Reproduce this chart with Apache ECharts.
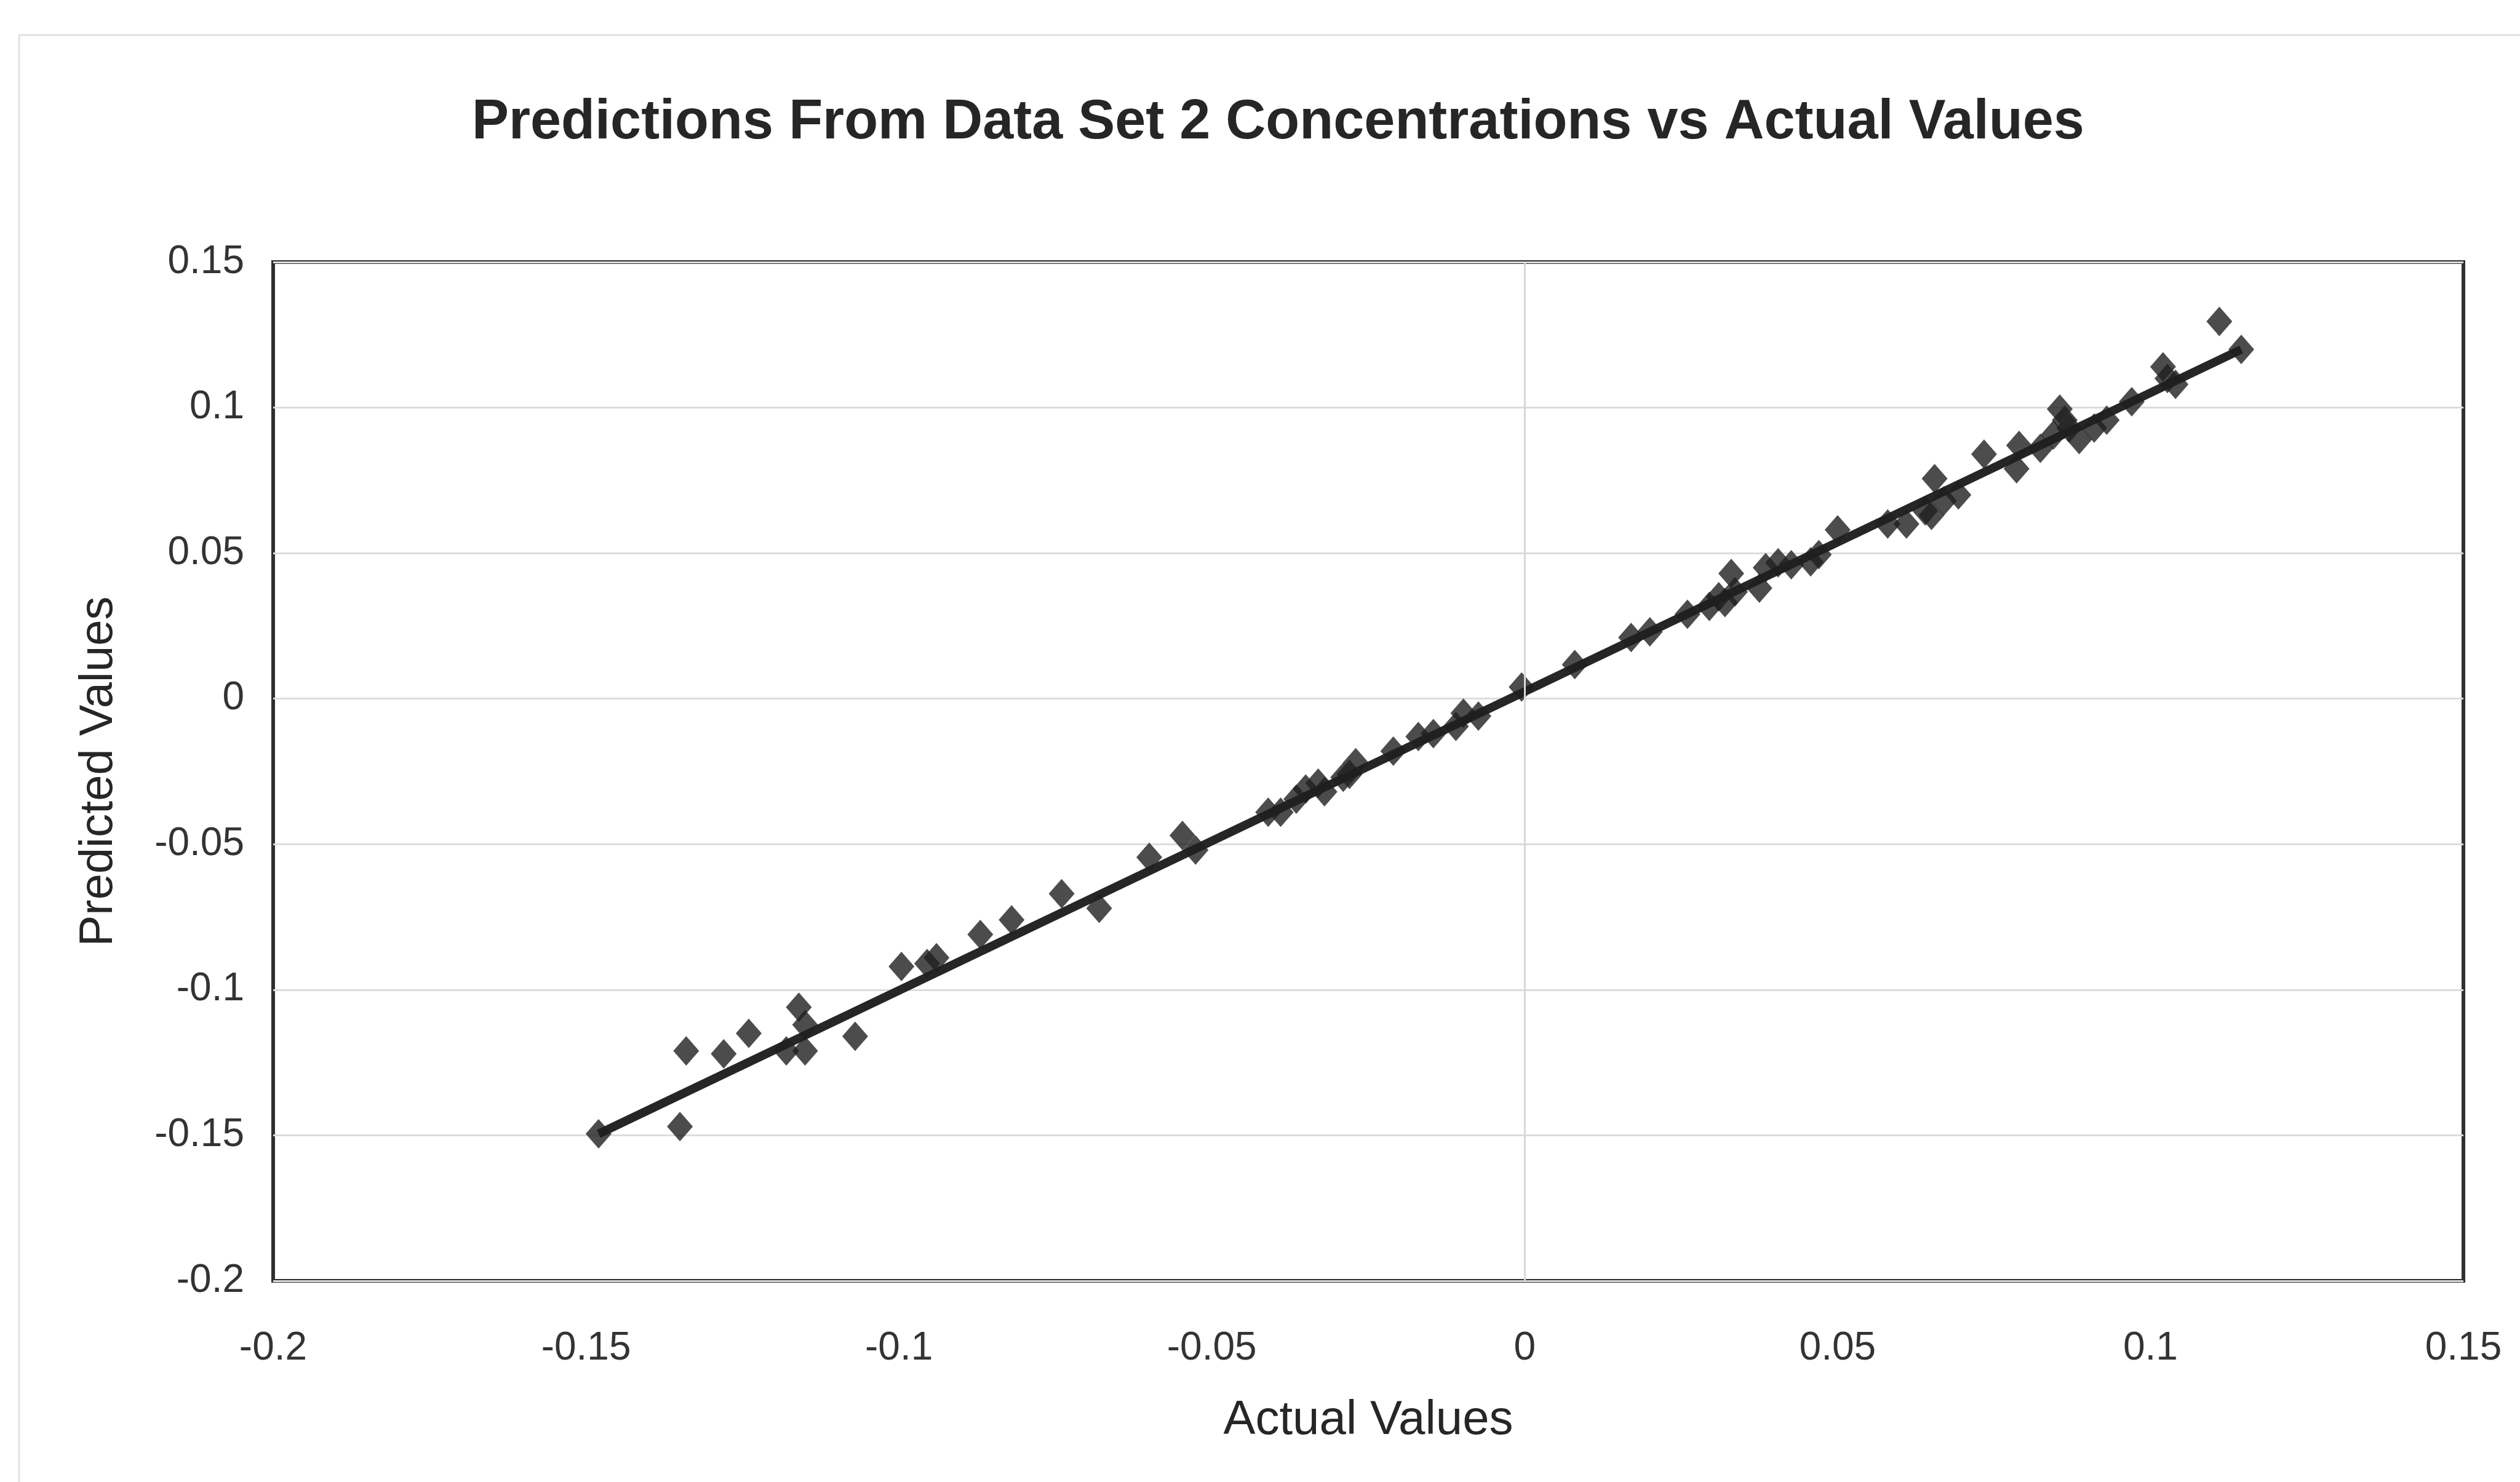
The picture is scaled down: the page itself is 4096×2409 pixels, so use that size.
<!DOCTYPE html>
<html>
<head>
<meta charset="utf-8">
<title>Predictions vs Actual</title>
<script src="https://cdn.jsdelivr.net/npm/echarts@6/dist/echarts.min.js"></script>
<style>
  html, body { margin: 0; padding: 0; background: #fff; }
  #chart { width: 4096px; height: 2409px; }
</style>
</head>
<body>
<div id="chart"></div>
<script>
// actual concentration (x) and model prediction (y)
const actualValues = [
    -0.148, -0.134, -0.135, -0.128, -0.124, -0.118, -0.116, -0.115, -0.115, -0.107,
    -0.0996, -0.0955, -0.094, -0.087, -0.082, -0.074, -0.068, -0.060, -0.0547, -0.0526,
    -0.041, -0.039, -0.0365, -0.035, -0.033, -0.032, -0.029, -0.028, -0.027, -0.021,
    -0.017, -0.0146, -0.011, -0.0098, -0.0074, -0.0005, 0.008, 0.017, 0.020, 0.026,
    0.0295, 0.031, 0.032, 0.033, 0.0336, 0.0375, 0.0385, 0.0405, 0.0426, 0.0457,
    0.047, 0.050, 0.058, 0.061, 0.064, 0.0655, 0.065, 0.067, 0.0693, 0.0734,
    0.0786, 0.079, 0.0824, 0.0845, 0.0855, 0.0863, 0.087, 0.0886, 0.091, 0.093,
    0.097, 0.102, 0.1027, 0.104, 0.111, 0.1145
]
const predictedValues = [
    -0.1495, -0.121, -0.147, -0.122, -0.115, -0.121, -0.106, -0.121, -0.112, -0.116,
    -0.092, -0.091, -0.089, -0.081, -0.076, -0.067, -0.072, -0.0545, -0.047, -0.052,
    -0.039, -0.039, -0.0345, -0.031, -0.029, -0.032, -0.027, -0.026, -0.022, -0.018,
    -0.013, -0.012, -0.0095, -0.005, -0.006, 0.004, 0.0117, 0.021, 0.023, 0.029,
    0.0317, 0.035, 0.033, 0.043, 0.0367, 0.038, 0.045, 0.0467, 0.046, 0.047,
    0.0495, 0.058, 0.060, 0.060, 0.0645, 0.0756, 0.063, 0.068, 0.070, 0.084,
    0.079, 0.087, 0.086, 0.0906, 0.0995, 0.0957, 0.093, 0.089, 0.093, 0.0957,
    0.102, 0.114, 0.110, 0.108, 0.1296, 0.120
]

// trend line ends as drawn
const trendX = [-0.148, 0.1145]
const trendY = [-0.1495, 0.120]

const axisTicks = [-0.2, -0.15, -0.1, -0.05, 0, 0.05, 0.1, 0.15]

const points = actualValues.map((x, i) => [x, predictedValues[i]])
const trend = trendX.map((x, i) => [x, trendY[i]])

const fontFamily = '"Liberation Sans", Arial, sans-serif'
const fmt = v => String(+v.toFixed(2))

const myChart = echarts.init(document.getElementById('chart'))

const option = {
    backgroundColor: '#fff',
    animation: false,
    title: {
        text: 'Predictions From Data Set 2 Concentrations vs Actual Values',
        left: 762,
        top: 150,
        textStyle: {
            fontFamily,
            fontSize: 90,
            fontWeight: 'bold',
            color: '#262626'
        }
    },
    graphic: [
        {
            type: 'rect',
            silent: true,
            shape: { x: 31, y: 57, width: 4200, height: 2500 },
            style: { fill: 'none', stroke: '#e2e2e2', lineWidth: 3 }
        }
    ],
    grid: {
        left: 444,
        right: 92,
        top: 426,
        bottom: 327,
        show: true,
        borderColor: '#303030',
        borderWidth: 6,
        backgroundColor: 'transparent'
    },
    xAxis: {
        type: 'value',
        min: axisTicks[0],
        max: axisTicks[axisTicks.length - 1],
        interval: 0.05,
        name: 'Actual Values',
        nameLocation: 'middle',
        nameGap: 188,
        nameTextStyle: { fontFamily, fontSize: 78, color: '#262626' },
        axisLine: { show: false },
        axisTick: { show: false },
        splitLine: { show: false },
        axisLabel: {
            margin: 78,
            fontFamily,
            fontSize: 64,
            color: '#333',
            formatter: fmt
        }
    },
    yAxis: {
        type: 'value',
        min: axisTicks[0],
        max: axisTicks[axisTicks.length - 1],
        interval: 0.05,
        name: 'Predicted Values',
        nameLocation: 'middle',
        nameGap: 245,
        nameRotate: 90,
        nameTextStyle: { fontFamily, fontSize: 76, color: '#262626' },
        axisLine: { show: false },
        axisTick: { show: false },
        splitLine: { show: true, lineStyle: { color: '#dcdcdc', width: 3 } },
        axisLabel: {
            margin: 47,
            fontFamily,
            fontSize: 64,
            color: '#333',
            formatter: fmt
        }
    },
    series: [
        {
            name: 'Trend',
            type: 'line',
            data: trend,
            symbol: 'none',
            lineStyle: { color: '#262626', width: 14 },
            z: 3,
            markLine: {
                silent: true,
                symbol: 'none',
                label: { show: false },
                lineStyle: { color: '#d8d8d8', width: 3, type: 'solid' },
                data: [{ xAxis: 0 }]
            }
        },
        {
            name: 'Predicted',
            type: 'scatter',
            data: points,
            symbol: 'diamond',
            symbolSize: [42, 48],
            itemStyle: { color: '#1f1f1f' },
            z: 4
        }
    ]
}

myChart.setOption(option)
</script>
</body>
</html>
